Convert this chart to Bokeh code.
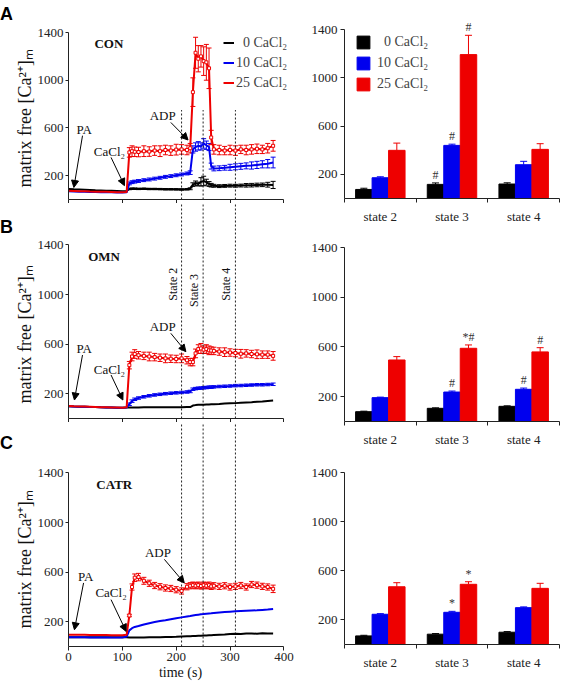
import numpy as np
from bokeh.plotting import figure
from bokeh.models import (ColumnDataSource, FixedTicker, Legend, LegendItem, Label, Title, Div,
                          Arrow, NormalHead, Whisker, TeeHead, Range1d)
from bokeh.layouts import row, column
from bokeh.embed import file_html
from bokeh.resources import INLINE
from bokeh.core.properties import value

# ---------------- data ----------------
time_s = [0, 10, 20, 30, 40, 50, 60, 70, 80, 90, 100, 108, 113, 118, 123, 130, 140, 150, 160, 170,
          180, 190, 200, 210, 220, 226, 231, 236, 241, 246, 251, 256, 261, 265, 270, 280, 290, 300,
          310, 320, 330, 340, 350, 360, 370, 380]

# CON
con_0 = [88, 85, 83, 81, 79, 77, 76, 74, 73, 72, 70, 72, 88, 90, 90, 89, 90, 88, 88, 87, 86, 86, 85,
         84, 86, 90, 125, 135, 130, 148, 155, 145, 130, 120, 115, 112, 114, 116, 115, 117, 119, 120,
         122, 123, 124, 122]
con_0_err = [0, 0, 0, 0, 0, 0, 0, 0, 0, 0, 0, 0, 6, 6, 6, 6, 6, 6, 6, 6, 6, 6, 6, 6, 6, 8, 15, 20,
             15, 35, 40, 25, 20, 15, 12, 12, 12, 12, 12, 12, 15, 15, 15, 15, 20, 30]
con_10 = [70, 68, 66, 65, 63, 62, 61, 60, 60, 59, 58, 60, 135, 145, 150, 155, 162, 168, 175, 182, 190,
          196, 203, 210, 218, 225, 420, 440, 450, 445, 470, 455, 440, 280, 260, 262, 266, 270, 274,
          278, 282, 285, 290, 295, 300, 310]
con_10_err = [0, 0, 0, 0, 0, 0, 0, 0, 0, 0, 0, 0, 12, 12, 12, 12, 12, 12, 12, 12, 12, 12, 12, 12, 12,
              15, 30, 35, 35, 30, 40, 35, 30, 25, 20, 20, 20, 25, 25, 25, 25, 30, 30, 30, 35, 45]
con_25 = [74, 72, 70, 69, 67, 66, 65, 64, 63, 61, 60, 62, 395, 405, 400, 398, 405, 402, 410, 405, 415,
          410, 418, 420, 415, 430, 900, 1230, 1180, 1200, 1160, 1150, 1100, 520, 420, 415, 410, 415,
          410, 420, 415, 420, 425, 420, 430, 450]
con_25_err = [0, 0, 0, 0, 0, 0, 0, 0, 0, 0, 0, 0, 40, 45, 40, 40, 45, 40, 40, 45, 40, 40, 45, 40, 40,
              40, 120, 130, 110, 90, 120, 150, 170, 60, 40, 40, 35, 40, 40, 35, 40, 40, 40, 35, 40, 45]

# OMN
omn_0 = [98, 96, 95, 94, 93, 92, 90, 89, 88, 87, 86, 88, 88, 89, 89, 89, 90, 90, 90, 90, 90, 91, 91,
         91, 92, 92, 104, 108, 110, 110, 111, 112, 113, 114, 115, 117, 120, 122, 124, 127, 130, 132,
         135, 138, 142, 145]
omn_10 = [98, 96, 95, 94, 93, 92, 90, 89, 88, 87, 86, 88, 115, 140, 155, 165, 175, 183, 190, 195, 200,
          204, 207, 210, 214, 218, 236, 241, 244, 245, 248, 250, 252, 253, 255, 258, 260, 262, 265,
          266, 268, 270, 272, 272, 274, 276]
omn_10_err = [0, 0, 0, 0, 0, 0, 0, 0, 0, 0, 0, 0, 10, 10, 10, 10, 10, 10, 10, 10, 10, 10, 10, 10, 10,
              10, 10, 10, 10, 10, 10, 10, 10, 10, 10, 10, 10, 10, 10, 10, 10, 10, 10, 10, 10, 10]
omn_25 = [100, 98, 97, 96, 95, 93, 91, 90, 89, 88, 87, 90, 430, 500, 520, 510, 505, 500, 495, 490, 485,
          482, 480, 485, 470, 455, 455, 525, 560, 565, 555, 560, 550, 548, 545, 540, 535, 532, 528,
          522, 525, 520, 518, 515, 515, 505]
omn_25_err = [0, 0, 0, 0, 0, 0, 0, 0, 0, 0, 0, 0, 30, 35, 35, 30, 30, 35, 30, 30, 35, 30, 30, 35, 30,
              30, 30, 35, 35, 40, 30, 35, 35, 30, 30, 30, 35, 30, 30, 35, 30, 30, 35, 30, 30, 35]

# CATR
catr_0 = [75, 75, 75, 75, 75, 75, 75, 75, 75, 75, 75, 75, 72, 72, 72, 73, 73, 74, 74, 75, 76, 77, 78,
          80, 82, 83, 84, 85, 86, 87, 88, 89, 90, 90, 92, 95, 97, 100, 102, 100, 104, 105, 103, 106,
          105, 104]
catr_10 = [75, 75, 74, 74, 73, 73, 73, 72, 72, 72, 72, 80, 130, 148, 158, 165, 178, 188, 197, 205,
           212, 220, 228, 235, 242, 246, 250, 254, 257, 260, 262, 265, 267, 268, 270, 274, 278, 281,
           284, 286, 288, 290, 292, 295, 298, 302]
catr_25 = [95, 95, 94, 94, 93, 93, 92, 92, 91, 91, 90, 95, 250, 480, 555, 560, 530, 510, 492, 482, 472,
           468, 458, 448, 482, 490, 495, 490, 495, 488, 495, 490, 495, 485, 490, 485, 490, 480, 485,
           492, 480, 500, 495, 485, 480, 465]
catr_25_err = [0, 0, 0, 0, 0, 0, 0, 0, 0, 0, 0, 0, 10, 25, 30, 30, 28, 25, 25, 25, 25, 25, 25, 25, 25,
               25, 25, 25, 25, 25, 25, 25, 25, 25, 25, 25, 25, 25, 25, 25, 25, 25, 25, 25, 25, 30]

# bar charts
bar_states = ["state 2", "state 3", "state 4"]
con_bar_0 = [75, 117, 120]
con_bar_0_err = [10, 12, 10]
con_bar_10 = [172, 440, 280]
con_bar_10_err = [8, 10, 28]
con_bar_25 = [399, 1192, 407]
con_bar_25_err = [60, 160, 47]
con_marks_0 = ["", "#", ""]
con_marks_10 = ["", "#", ""]
con_marks_25 = ["", "#", ""]

omn_bar_0 = [79, 106, 122]
omn_bar_0_err = [4, 4, 4]
omn_bar_10 = [192, 237, 259]
omn_bar_10_err = [4, 8, 10]
omn_bar_25 = [495, 589, 560]
omn_bar_25_err = [27, 27, 34]
omn_marks_0 = ["", "", ""]
omn_marks_10 = ["", "#", "#"]
omn_marks_25 = ["", "*#", "#"]

catr_bar_0 = [70, 84, 100]
catr_bar_0_err = [5, 5, 5]
catr_bar_10 = [246, 262, 300]
catr_bar_10_err = [5, 8, 6]
catr_bar_25 = [470, 490, 457]
catr_bar_25_err = [33, 21, 41]
catr_marks_0 = ["", "", ""]
catr_marks_10 = ["", "*", ""]
catr_marks_25 = ["", "*", ""]

legend_labels = ["\u20070 CaCl\u2082", "10 CaCl\u2082", "25 CaCl\u2082"]
state_times = [210, 250, 310]
state_names = ["State 2", "State 3", "State 4"]
y_ticks = [200, 600, 1000, 1400]
x_ticks = [0, 100, 200, 300, 400]

# ---------------- styles ----------------
SERIF = "Liberation Serif"
SANS = "Liberation Sans"
COLORS = ["#000000", "#0000ee", "#ee0000"]
AX = "#222222"
YLABEL = "matrix free [Ca\u00b2\u207a]\u2098"


def style_common(p):
    p.outline_line_color = None
    p.xgrid.visible = False
    p.ygrid.visible = False
    p.background_fill_color = "white"
    p.border_fill_color = "white"
    for ax in (p.xaxis[0], p.yaxis[0]):
        ax.axis_line_color = AX
        ax.major_tick_line_color = AX
        ax.minor_tick_line_color = AX
        ax.major_tick_in = 0
        ax.major_tick_out = 4
        ax.minor_tick_in = 0
        ax.minor_tick_out = 0
        ax.major_label_text_font = SERIF
        ax.major_label_text_font_size = "13px"
        ax.major_label_text_color = AX
    p.yaxis[0].ticker = FixedTicker(ticks=y_ticks)
    p.yaxis[0].bounds = (0, 1400)
    p.yaxis[0].major_label_standoff = 3


def time_fig(height, ytop, btop, bbottom, labelled):
    p = figure(width=296, height=height, x_range=Range1d(0, 416), y_range=Range1d(0, ytop),
               output_backend="svg", toolbar_location=None, title=None,
               min_border_left=56, min_border_right=16, min_border_top=btop,
               min_border_bottom=bbottom)
    style_common(p)
    p.yaxis[0].major_tick_out = 3
    p.yaxis[0].major_label_standoff = 2
    xa = p.xaxis[0]
    xa.bounds = (0, 400)
    if labelled:
        xa.ticker = FixedTicker(ticks=x_ticks)
    else:
        xa.ticker = FixedTicker(ticks=[], minor_ticks=x_ticks)
        xa.minor_tick_out = 4
        xa.major_label_standoff = 0
    return p


def add_trace(p, y, err, color, marker):
    src = ColumnDataSource(dict(t=time_s, y=y))
    r = p.line("t", "y", source=src, line_color=color, line_width=2)
    if err is not None:
        idx = [i for i, e in enumerate(err) if e > 0]
        es = ColumnDataSource(dict(t=[time_s[i] for i in idx], y=[y[i] for i in idx],
                                   lo=[y[i] - err[i] for i in idx],
                                   hi=[y[i] + err[i] for i in idx]))
        p.add_layout(Whisker(base="t", lower="lo", upper="hi", source=es, line_color=color,
                             line_width=1, upper_head=TeeHead(size=5, line_color=color),
                             lower_head=TeeHead(size=5, line_color=color)))
        if marker:
            p.scatter("t", "y", source=es, marker="square", size=3, fill_color="white",
                      line_color=color, line_width=1)
    return r


def add_text(p, x, y, text, size="13px", bold=False):
    p.add_layout(Label(x=x, y=y, text=text, text_font=SERIF, text_font_size=size,
                       text_font_style="bold" if bold else "normal", text_align="center",
                       text_baseline="middle", text_color="#111111"))


def add_arrow(p, x0, y0, x1, y1):
    p.add_layout(Arrow(end=NormalHead(size=7, fill_color="black", line_color="black"),
                       x_start=x0, y_start=y0, x_end=x1, y_end=y1, line_color="black",
                       line_width=1))


def add_ylabel(p, offset):
    p.add_layout(Title(text=YLABEL, align="left", offset=offset, standoff=-1,
                       text_font=SERIF, text_font_size="18px", text_font_style="normal",
                       text_color="#111111"), "left")


def letter_div(letter, height, top):
    html = ('<span style="position:relative; top:%dpx; left:0px; font-family:\'Liberation Sans\';'
            ' font-weight:bold; font-size:18px; color:#000;">%s</span>' % (top, letter))
    return Div(text=html, width=12, height=height, margin=(0, 0, 0, 0))


# ---------- left A ----------
pA = time_fig(203, 1400, 32, 4, False)
pA.segment(x0=state_times, y0=0, x1=state_times, y1=750, line_dash="2 2", line_color=AX,
           line_width=1)
rA0 = add_trace(pA, con_0, con_0_err, COLORS[0], False)
rA1 = add_trace(pA, con_10, con_10_err, COLORS[1], False)
rA2 = add_trace(pA, con_25, con_25_err, COLORS[2], True)
add_text(pA, 75, 1306, "CON", bold=True)
add_text(pA, 29, 590, "PA")
add_arrow(pA, 26, 535, 10, 101)
add_text(pA, 76, 403, "CaCl\u2082")
add_arrow(pA, 79, 353, 104, 116)
add_text(pA, 175, 702, "ADP")
add_arrow(pA, 190, 646, 222, 499)
add_ylabel(pA, 12)
legA = Legend(items=[LegendItem(label=legend_labels[i], renderers=[r])
                     for i, r in enumerate([rA0, rA1, rA2])],
              location=(155, 108), background_fill_alpha=0, border_line_color=None, padding=0,
              margin=0, spacing=3, glyph_width=11, glyph_height=17, label_height=17,
              label_standoff=2, label_text_font=SERIF, label_text_font_size="14px")
pA.add_layout(legA)

# ---------- left B ----------
pB = time_fig(219, 1734, 0, 4, False)
pB.segment(x0=state_times, y0=0, x1=state_times, y1=1734, line_dash="2 2", line_color=AX,
           line_width=1)
pB.text(x=state_times, y=[950, 900, 950], text=state_names, angle=np.pi / 2, x_offset=-2,
        text_align="left", text_baseline="bottom", text_font=value(SERIF),
        text_font_size="12px", text_color="#111111")
add_trace(pB, omn_0, None, COLORS[0], False)
add_trace(pB, omn_10, omn_10_err, COLORS[1], False)
add_trace(pB, omn_25, omn_25_err, COLORS[2], True)
add_text(pB, 66, 1305, "OMN", bold=True)
add_text(pB, 29, 566, "PA")
add_arrow(pB, 26, 512, 11, 149)
add_text(pB, 76, 397, "CaCl\u2082")
add_arrow(pB, 79, 351, 101, 149)
add_text(pB, 175, 740, "ADP")
add_arrow(pB, 190, 687, 218, 539)
add_ylabel(pB, 15)

# ---------- left C ----------
pC = time_fig(264, 1807, 0, 40, True)
pC.segment(x0=state_times, y0=0, x1=state_times, y1=1807, line_dash="2 2", line_color=AX,
           line_width=1)
add_trace(pC, catr_0, None, COLORS[0], False)
add_trace(pC, catr_10, None, COLORS[1], False)
add_trace(pC, catr_25, catr_25_err, COLORS[2], True)
add_text(pC, 85, 1310, "CATR", bold=True)
add_text(pC, 32, 567, "PA")
add_arrow(pC, 28, 513, 11, 135)
add_text(pC, 79, 432, "CaCl\u2082")
add_arrow(pC, 79, 378, 107, 122)
add_text(pC, 166, 756, "ADP")
add_arrow(pC, 178, 703, 215, 513)
add_ylabel(pC, 18)
pC.xaxis[0].major_label_standoff = 2
pC.xaxis[0].axis_label = "time (s)"
pC.xaxis[0].axis_label_text_font = SERIF
pC.xaxis[0].axis_label_text_font_size = "14px"
pC.xaxis[0].axis_label_text_font_style = "normal"
pC.xaxis[0].axis_label_text_color = "#111111"
pC.xaxis[0].axis_label_standoff = 1


# ---------- bar charts ----------
def bar_fig(height, ytop, btop, bbottom, vals, errs, marks, with_legend):
    p = figure(width=252, height=height, x_range=Range1d(0, 3), y_range=Range1d(0, ytop),
               output_backend="svg", toolbar_location=None, title=None,
               min_border_left=33, min_border_right=1, min_border_top=btop,
               min_border_bottom=bbottom)
    style_common(p)
    centers = [i + 0.5 for i in range(len(bar_states))]
    xa = p.xaxis[0]
    xa.ticker = FixedTicker(ticks=centers,
                            minor_ticks=[float(i) for i in range(len(bar_states) + 1)])
    xa.major_label_overrides = {c: s for c, s in zip(centers, bar_states)}
    xa.major_tick_out = 0
    xa.minor_tick_out = 4
    xa.major_label_standoff = 6
    offsets = [-0.23, 0.0, 0.23]
    rs = []
    for v, e, m, col, off in zip(vals, errs, marks, COLORS, offsets):
        xs = [c + off for c in centers]
        ups = [a + b for a, b in zip(v, e)]
        src = ColumnDataSource(dict(x=xs, top=v, up=ups))
        r = p.vbar(x="x", top="top", bottom=0, width=0.23, source=src, fill_color=col,
                   line_color=col)
        p.add_layout(Whisker(base="x", lower="top", upper="up", source=src, line_color=col,
                             line_width=1, upper_head=TeeHead(size=7, line_color=col),
                             lower_head=None))
        keep = [i for i, s in enumerate(m) if s]
        if keep:
            ms = ColumnDataSource(dict(x=[xs[i] for i in keep], y=[ups[i] for i in keep],
                                       mark=[m[i] for i in keep]))
            p.text(x="x", y="y", text="mark", source=ms, text_font=value(SERIF),
                   text_font_size="12px", text_align="center", text_baseline="bottom",
                   text_color="#333333", y_offset=-1)
        rs.append(r)
    if with_legend:
        leg = Legend(items=[LegendItem(label=legend_labels[i], renderers=[r])
                            for i, r in enumerate(rs)],
                     location=(11, 106), background_fill_alpha=0, border_line_color=None,
                     padding=0, margin=0, spacing=5, glyph_width=16, glyph_height=16,
                     label_height=16, label_standoff=6, label_text_font=SERIF,
                     label_text_font_size="14px")
        p.add_layout(leg)
    return p


bA = bar_fig(229, 1483, 19, 31, [con_bar_0, con_bar_10, con_bar_25],
             [con_bar_0_err, con_bar_10_err, con_bar_25_err],
             [con_marks_0, con_marks_10, con_marks_25], True)
bB = bar_fig(221, 1400, 18, 29, [omn_bar_0, omn_bar_10, omn_bar_25],
             [omn_bar_0_err, omn_bar_10_err, omn_bar_25_err],
             [omn_marks_0, omn_marks_10, omn_marks_25], False)
bC = bar_fig(230, 1400, 22, 36, [catr_bar_0, catr_bar_10, catr_bar_25],
             [catr_bar_0_err, catr_bar_10_err, catr_bar_25_err],
             [catr_marks_0, catr_marks_10, catr_marks_25], False)

left = column(row(letter_div("A", 203, 2), pA),
              row(letter_div("B", 219, 12), pB),
              row(letter_div("C", 264, 9), pC))
layout = row(left, column(bA, bB, bC))
open("out.html", "w").write(file_html(layout, INLINE))
